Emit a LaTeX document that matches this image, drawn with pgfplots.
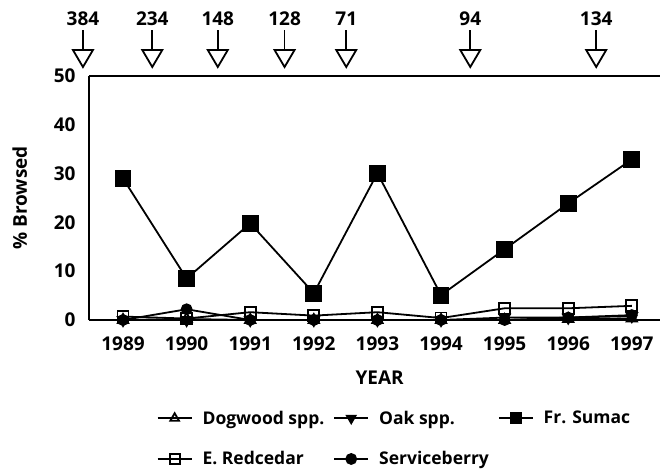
\documentclass[border=0pt]{standalone}
\usepackage{fontspec}
\setmainfont{Open Sans}
\usepackage{pgfplots}
\pgfplotsset{compat=1.18}

\newcommand{\tickfont}{\bfseries\fontsize{19bp}{22bp}\selectfont}
\newcommand{\legfont}{\bfseries\fontsize{17.5bp}{20bp}\selectfont}
% arrow with number of deer harvested above the plot
\newcommand{\lotarrow}[2]{%
  \draw[line width=1.8bp] ([yshift=46bp]axis cs:#1,50) -- ([yshift=26bp]axis cs:#1,50);
  \draw[line width=1.8bp, line join=miter] ([xshift=-10bp,yshift=26bp]axis cs:#1,50)
     -- ([xshift=10bp,yshift=26bp]axis cs:#1,50) -- ([yshift=9bp]axis cs:#1,50) -- cycle;
  \node[anchor=base, font=\tickfont, inner sep=0pt] at ([yshift=51bp]axis cs:#1,50) {#2};
}

\begin{document}
\begin{tikzpicture}
\path[use as bounding box] (-89bp,-150bp) rectangle (571bp,320bp);
\begin{axis}[
  scale only axis, width=571bp, height=244bp,
  xmin=-0.535, xmax=8.443, ymin=0, ymax=50,
  axis x line=box, axis y line=left,
  axis line style={-, line width=2.4bp},
  xtick={0,...,8},
  xticklabels={1989,1990,1991,1992,1993,1994,1995,1996,1997},
  ytick={0,10,...,50},
  major tick length=0pt,
  /pgf/number format/assume math mode=true,
  tick label style={font=\tickfont},
  xticklabel style={anchor=base, yshift=-30bp},
  yticklabel style={xshift=-10bp},
  xlabel={YEAR}, ylabel={\% Browsed},
  xlabel style={at={(axis description cs:0.509,-0.2623)}, anchor=base, font=\tickfont},
  ylabel style={at={(axis description cs:-0.1086,0.5)}, anchor=base, font=\tickfont},
  clip=false,
  legend columns=3,
  legend cell align=left,
  legend style={draw=none, at={(0.535,-0.355)}, anchor=north, font=\legfont,
    row sep=22bp,
    /tikz/every odd column/.append style={column sep=8bp},
    /tikz/every even column/.append style={column sep=7bp}},
  legend image code/.code={\draw[mark repeat=2,mark phase=2] plot coordinates {(0bp,0bp) (17bp,0bp) (34bp,0bp)};},
  legend image post style={mark size=5bp},
  every axis plot/.append style={line width=1.8bp, black},
]
% x = year - 1989
\addplot[mark=triangle, mark size=6bp, mark options={fill=white}] coordinates {
  (0,0) (1,0.2) (2,0) (3,0) (4,0) (5,0) (6,0) (7,0.2) (8,0.3)
};
\addplot[mark=triangle*, mark size=6bp, mark options={rotate=180, fill=black}] coordinates {
  (0,0) (1,0) (2,0) (3,0) (4,0) (5,0) (6,0.5) (7,0.5) (8,0.8)
};
\addplot[mark=square*, mark size=7.5bp, mark options={fill=black}] coordinates {
  (0,29.0) (1,8.5) (2,19.8) (3,5.5) (4,30.1) (5,5.1) (6,14.5) (7,23.9) (8,32.9)
};
\addplot[mark=square, mark size=5.5bp, mark options={fill=white}] coordinates {
  (0,0.7) (1,0.3) (2,1.6) (3,0.9) (4,1.6) (5,0.4) (6,2.4) (7,2.4) (8,2.9)
};
\addplot[mark=*, mark size=5bp, mark options={fill=black}] coordinates {
  (0,0) (1,2.2) (2,0) (3,0) (4,0) (5,0) (6,0) (7,0.5) (8,1.0)
};
\legend{Dogwood spp., Oak spp., Fr. Sumac, E. Redcedar, Serviceberry}

\lotarrow{-0.63}{384}
\lotarrow{0.46}{234}
\lotarrow{1.49}{148}
\lotarrow{2.54}{128}
\lotarrow{3.51}{71}
\lotarrow{5.46}{94}
\lotarrow{7.44}{134}
\end{axis}
\end{tikzpicture}
\end{document}
